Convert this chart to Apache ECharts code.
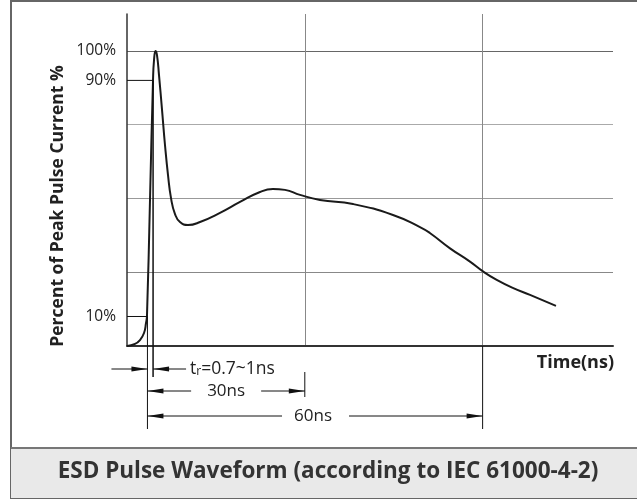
<!DOCTYPE html>
<html><head><meta charset="utf-8">
<script src="https://cdn.jsdelivr.net/npm/echarts@6/dist/echarts.min.js"></script>
<style>html,body{margin:0;padding:0;background:#fff}#c{width:637px;height:499px}</style>
</head><body><div id="c"></div>
<script>
// Waveform (time in schematic ns units, current in % of peak)
const timeNs = [0, 1.35, 2.19, 2.87, 3.21, 3.37, 3.88, 4.39, 4.56, 4.81, 5.06, 5.40, 5.91, 6.41, 6.92, 7.42, 8.10, 8.94, 10.29, 12.32, 15.69, 19.07, 22.44, 24.63, 26.66, 29.19, 32.56, 38.13, 44.88, 49.43, 51.1, 54.5, 57.87, 60.12, 62.38, 65.18, 68.0, 72.38];
const currentPct = [0, 0.7, 2.0, 4.4, 7.8, 10.2, 49.5, 90.1, 96.9, 100, 98.6, 91.8, 80.0, 68.1, 57.9, 50.2, 44.7, 42.0, 41.0, 42.0, 45.1, 48.8, 52.2, 53.2, 52.9, 51.2, 49.5, 48.1, 44.4, 40.3, 38.3, 33.1, 28.6, 25.2, 22.4, 19.6, 17.3, 13.6];
const yTickLabels = [10, 90, 100];
// annotation markers (data units)
const t10 = 3.45, t90 = 4.4, t30 = 30, t60 = 60;
const pct10 = 10, pct90 = 90;
const labelTr = ['t', 'r', '=0.7~1ns'];
const label30 = '30ns', label60 = '60ns';

const FONT = '"Open Sans", "DejaVu Sans", sans-serif';
const chart = echarts.init(document.getElementById('c'), null, {renderer: 'canvas'});
chart.setOption({
  animation: false,
  grid: {left: 127, right: 24, top: 14, bottom: 153},
  xAxis: {
    type: 'value', min: 0, max: 82, interval: 30,
    axisLine: {lineStyle: {color: '#333', width: 2}},
    axisTick: {show: false}, axisLabel: {show: false},
    splitLine: {show: true, showMinLine: false, showMaxLine: false, lineStyle: {color: '#888', width: 1}},
    name: 'Time(ns)', nameLocation: 'end', nameGap: 1,
    nameTextStyle: {fontFamily: FONT, fontWeight: 'bold', fontSize: 18, color: '#222', align: 'right', verticalAlign: 'top', padding: [8, 0, 0, 0]}
  },
  yAxis: [{
    type: 'value', min: 0, max: 112.5, interval: 25,
    axisLine: {show: true, lineStyle: {color: '#333', width: 1.5}},
    axisTick: {show: false}, axisLabel: {show: false},
    splitLine: {show: true, showMinLine: false, showMaxLine: false, lineStyle: {color: ['#888', '#999', '#aaa', '#666', '#bbb', '#bbb'], width: 1}}
  }, {
    type: 'value', min: 0, max: 112.5, interval: 10, position: 'left',
    axisLine: {show: false}, axisTick: {show: false}, splitLine: {show: false},
    axisLabel: {margin: 11, fontFamily: FONT, fontSize: 15.5, color: '#222',
      formatter: v => yTickLabels.includes(v) ? v + '%' : ''}
  }],
  series: [{
    type: 'line', data: timeNs.map((t, i) => [t, currentPct[i]]),
    showSymbol: false, symbol: 'none', smooth: 0.5, clip: false,
    lineStyle: {color: '#1a1a1a', width: 2}, z: 5
  }]
});

const P = (x, y) => chart.convertToPixel({seriesIndex: 0}, [x, y]);
const axisY = P(0, 0)[1];
const X = v => P(v, 0)[0];
const g = [];
function seg(x1, y1, x2, y2, w) {
  g.push({type: 'line', shape: {x1, y1, x2, y2}, style: {stroke: '#111', lineWidth: w || 1}, z: 10});
}
function arrow(tipX, y, dir) { // dir: +1 pointing right, -1 pointing left
  const L = 16, H = 2.6;
  g.push({type: 'polygon', shape: {points: [[tipX, y], [tipX - dir * L, y - H], [tipX - dir * L, y + H]]}, style: {fill: '#111'}, z: 10});
}
function text(str, x, y, extra) {
  g.push({type: 'text', x, y, z: 10, style: Object.assign({text: str, fontFamily: FONT, fontSize: 17, fill: '#222', align: 'center', verticalAlign: 'middle'}, extra || {})});
}
// frame and bottom band
g.push({type: 'rect', shape: {x: 11, y: 1, width: 640, height: 497}, style: {fill: 'none', stroke: '#666', lineWidth: 2}, z: 1});
g.push({type: 'rect', shape: {x: 11, y: 448, width: 630, height: 50}, style: {fill: '#e9e9e9'}, z: 1});
g.push({type: 'line', shape: {x1: 11, y1: 448, x2: 637, y2: 448}, style: {stroke: '#777', lineWidth: 2}, z: 2});
text('ESD Pulse Waveform (according to IEC 61000-4-2)', 328, 472, {fontWeight: 'bold', fontSize: 22.5, fill: '#333'});
// y axis title
g.push({type: 'text', x: 58, y: 206, rotation: Math.PI / 2, z: 10, style: {text: 'Percent of Peak Pulse Current %', fontFamily: FONT, fontWeight: 'bold', fontSize: 17.5, fill: '#222', align: 'center', verticalAlign: 'middle'}});

const x10 = X(t10), x90 = X(t90), x30 = X(t30), x60 = X(t60);
const y90 = P(0, pct90)[1], y10 = P(0, pct10)[1];
// level markers
seg(X(0), y90, x90, y90);
seg(X(0), y10, x10, y10);
// vertical reference lines
seg(x10, y10, x10, axisY + 83);
seg(x90, y90, x90, axisY + 31, 1.5);
seg(x60, axisY, x60, axisY + 83);
seg(x30, axisY + 26, x30, axisY + 51);
// tr row
const r1 = axisY + 23;
seg(x10 - 36, r1, x10, r1); arrow(x10, r1, 1);
seg(x90, r1, x90 + 33, r1); arrow(x90, r1, -1);
g.push({type: 'text', x: x90 + 37, y: r1, z: 10, style: {text: '{a|' + labelTr[0] + '}{b|' + labelTr[1] + '}{a|' + labelTr[2] + '}', align: 'left', verticalAlign: 'middle',
  rich: {a: {fontFamily: FONT, fontSize: 17.5, fill: '#222'}, b: {fontFamily: FONT, fontSize: 12, fill: '#222', padding: [6, 0, 0, 0]}}}});
// 30ns row
const r2 = axisY + 45, c30 = (x10 + x30) / 2;
seg(x10, r2, c30 - 35, r2); arrow(x10, r2, -1);
seg(c30 + 35, r2, x30, r2); arrow(x30, r2, 1);
text(label30, c30, r2);
// 60ns row
const r3 = axisY + 70, c60 = (x10 + x60) / 2 - 2;
seg(x10, r3, c60 - 31, r3); arrow(x10, r3, -1);
seg(c60 + 36, r3, x60, r3); arrow(x60, r3, 1);
text(label60, c60, r3);

chart.setOption({graphic: g});
</script></body></html>
